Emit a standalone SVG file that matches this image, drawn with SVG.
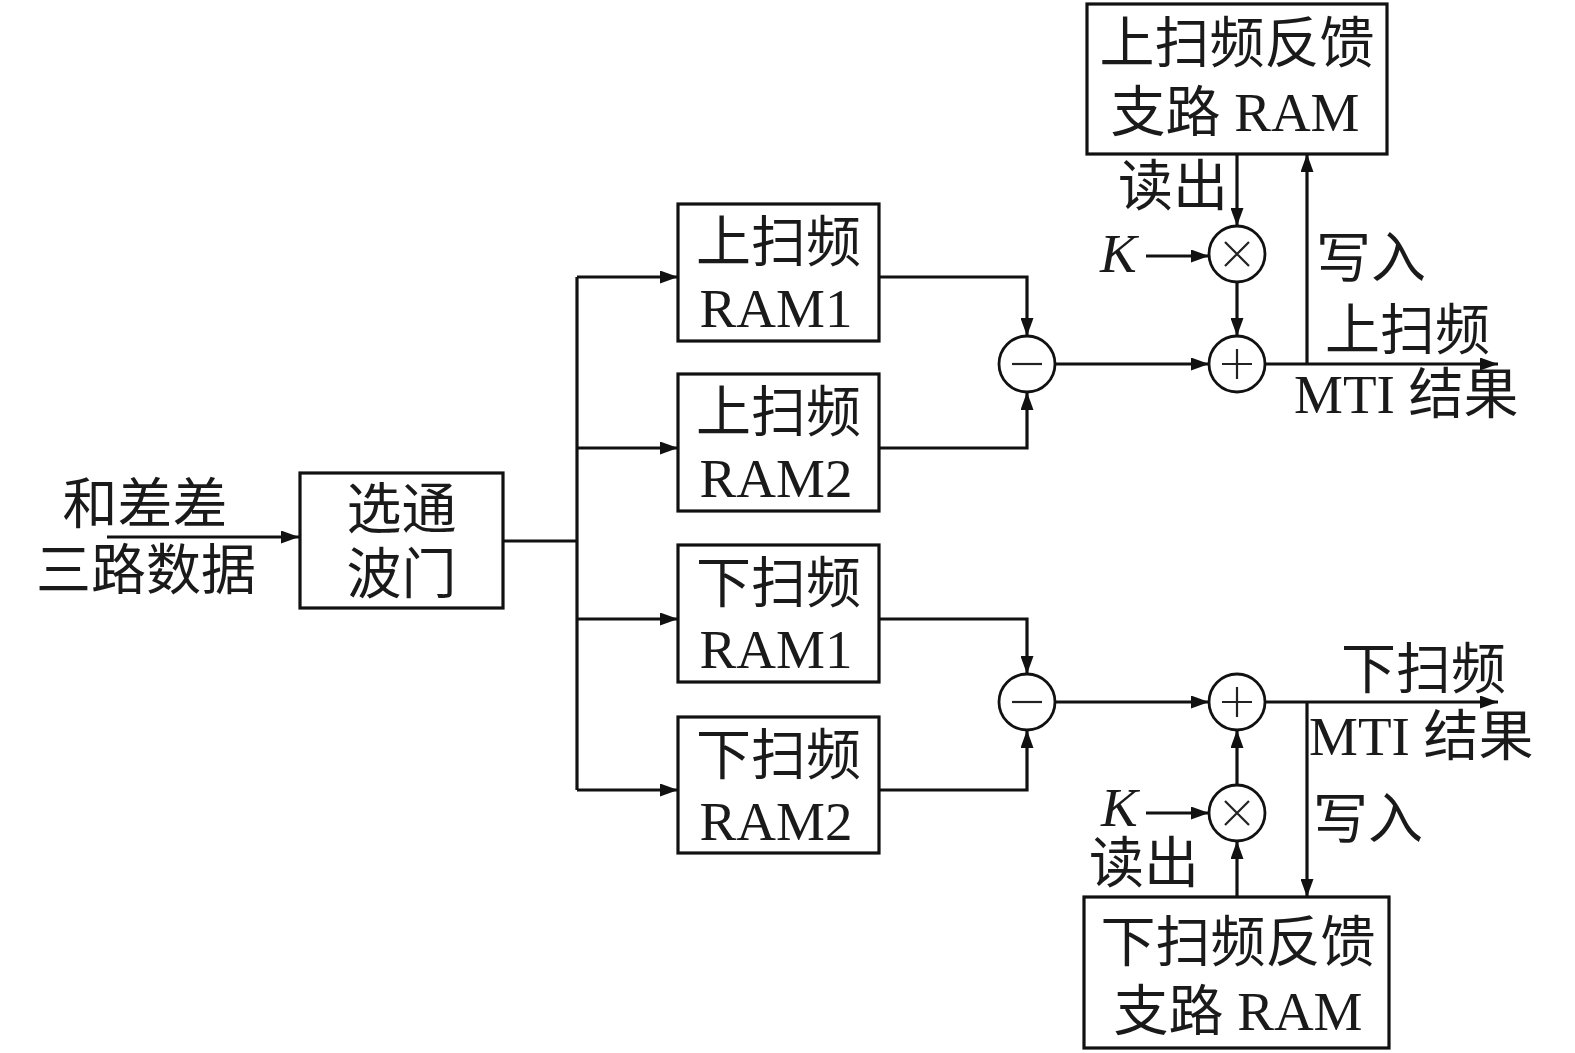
<svg xmlns="http://www.w3.org/2000/svg" width="1575" height="1053" viewBox="0 0 1575 1053">
<style>
.box{fill:#fff;stroke:#111;stroke-width:3.2}
.op{fill:#fff;stroke:#111;stroke-width:2.8}
.sym{stroke:#222;stroke-width:2.2;fill:none}
.ln{fill:none;stroke:#111;stroke-width:3.2}
.t{font-family:"Liberation Serif","Noto Sans CJK SC",serif;font-size:55px;fill:#1a1a1a}
.m{text-anchor:middle}
.k{font-style:italic}
</style>
<defs>
<marker id="ar" markerUnits="userSpaceOnUse" markerWidth="18" markerHeight="13" refX="18" refY="6.5" orient="auto">
<path d="M0,0 L18,6.5 L0,13 z" fill="#111"/>
</marker>
</defs>
<rect width="1575" height="1053" fill="#fff"/>
<g id="connectors">
<path class="ln" d="M107,537 H299" marker-end="url(#ar)"/>
<path class="ln" d="M503,541 H577"/>
<path class="ln" d="M577,277 V790"/>
<path class="ln" d="M577,277 H678" marker-end="url(#ar)"/>
<path class="ln" d="M577,448 H678" marker-end="url(#ar)"/>
<path class="ln" d="M577,619 H678" marker-end="url(#ar)"/>
<path class="ln" d="M577,790 H678" marker-end="url(#ar)"/>
<path class="ln" d="M879,277 H1027 V336" marker-end="url(#ar)"/>
<path class="ln" d="M879,448 H1027 V392" marker-end="url(#ar)"/>
<path class="ln" d="M879,619 H1027 V674" marker-end="url(#ar)"/>
<path class="ln" d="M879,790 H1027 V730" marker-end="url(#ar)"/>
<path class="ln" d="M1055,364 H1209" marker-end="url(#ar)"/>
<path class="ln" d="M1055,702 H1209" marker-end="url(#ar)"/>
<path class="ln" d="M1237,154 V226" marker-end="url(#ar)"/>
<path class="ln" d="M1237,282 V336" marker-end="url(#ar)"/>
<path class="ln" d="M1146,256 H1209" marker-end="url(#ar)"/>
<path class="ln" d="M1265,364 H1498" marker-end="url(#ar)"/>
<path class="ln" d="M1307,364 V154" marker-end="url(#ar)"/>
<path class="ln" d="M1237,897 V841" marker-end="url(#ar)"/>
<path class="ln" d="M1237,785 V730" marker-end="url(#ar)"/>
<path class="ln" d="M1146,813 H1209" marker-end="url(#ar)"/>
<path class="ln" d="M1265,702 H1498" marker-end="url(#ar)"/>
<path class="ln" d="M1307,702 V897" marker-end="url(#ar)"/>
</g>
<g id="input-label">
<text class="t m" x="145" y="523">和差差</text>
<text class="t m" x="146" y="589">三路数据</text>
</g>
<g id="gate">
<rect class="box" x="300" y="473" width="203" height="135"/>
<text class="t m" x="401.5" y="528">选通</text>
<text class="t m" x="401.5" y="593">波门</text>
</g>
<g id="up-ram1">
<rect class="box" x="678" y="204" width="201" height="137"/>
<text class="t m" x="778.5" y="261">上扫频</text>
<text class="t m" x="776" y="327">RAM1</text>
</g>
<g id="up-ram2">
<rect class="box" x="678" y="374" width="201" height="137"/>
<text class="t m" x="778.5" y="431">上扫频</text>
<text class="t m" x="776" y="497">RAM2</text>
</g>
<g id="down-ram1">
<rect class="box" x="678" y="545" width="201" height="137"/>
<text class="t m" x="778.5" y="602">下扫频</text>
<text class="t m" x="776" y="668">RAM1</text>
</g>
<g id="down-ram2">
<rect class="box" x="678" y="717" width="201" height="136"/>
<text class="t m" x="778.5" y="774">下扫频</text>
<text class="t m" x="776" y="840">RAM2</text>
</g>
<g id="up-sub">
<circle class="op" cx="1027" cy="364" r="28"/>
<path class="sym" d="M1012,364 H1042"/>
</g>
<g id="down-sub">
<circle class="op" cx="1027" cy="702" r="28"/>
<path class="sym" d="M1012,702 H1042"/>
</g>
<g id="up-add">
<circle class="op" cx="1237" cy="364" r="28"/>
<path class="sym" d="M1222,364 H1252 M1237,349 V379"/>
</g>
<g id="down-add">
<circle class="op" cx="1237" cy="702" r="28"/>
<path class="sym" d="M1222,702 H1252 M1237,687 V717"/>
</g>
<g id="up-mul">
<circle class="op" cx="1237" cy="254" r="28"/>
<path class="sym" d="M1225,242 L1249,266 M1249,242 L1225,266"/>
</g>
<g id="down-mul">
<circle class="op" cx="1237" cy="813" r="28"/>
<path class="sym" d="M1225,801 L1249,825 M1249,801 L1225,825"/>
</g>
<g id="up-fb-ram">
<rect class="box" x="1087" y="4" width="300" height="150"/>
<text class="t m" x="1237" y="62">上扫频反馈</text>
<text class="t m" x="1235" y="131">支路 RAM</text>
</g>
<g id="down-fb-ram">
<rect class="box" x="1084" y="897" width="305" height="151"/>
<text class="t m" x="1238" y="961">下扫频反馈</text>
<text class="t m" x="1238" y="1030">支路 RAM</text>
</g>
<g id="up-labels">
<text class="t m" x="1173" y="205">读出</text>
<text class="t k" x="1100" y="272">K</text>
<text class="t" x="1316" y="277">写入</text>
<text class="t" x="1325" y="349">上扫频</text>
<text class="t" x="1294" y="413">MTI 结果</text>
</g>
<g id="down-labels">
<text class="t" x="1341" y="688">下扫频</text>
<text class="t" x="1309" y="755">MTI 结果</text>
<text class="t" x="1313" y="838">写入</text>
<text class="t k" x="1101" y="826">K</text>
<text class="t m" x="1144" y="882">读出</text>
</g>
</svg>
